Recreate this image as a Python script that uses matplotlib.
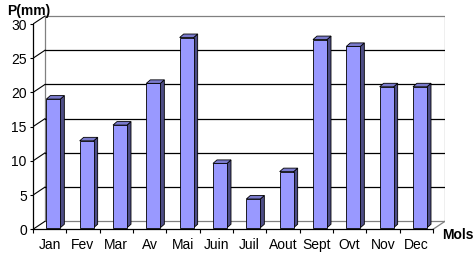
import matplotlib
matplotlib.use("Agg")
import matplotlib.pyplot as plt
from matplotlib.patches import Polygon, Rectangle
import numpy as np

months = ['Jan', 'Fev', 'Mar', 'Av', 'Mai', 'Juin', 'Juil', 'Aout', 'Sept', 'Ovt', 'Nov', 'Dec']
precip = [18.8, 12.7, 15.0, 21.1, 27.8, 9.4, 4.2, 8.2, 27.5, 26.5, 20.6, 20.6]
yticks = [0, 5, 10, 15, 20, 25, 30]
ylabel = 'P(mm)'
xlabel = 'Mols'

plt.rcParams['font.family'] = ['Liberation Sans', 'DejaVu Sans']

W, H = 475, 264
fig = plt.figure(figsize=(W / 100, H / 100), dpi=100)

# 3D geometry (in data units)
ddx, ddy = 0.36, 1.17      # depth of the floor / walls
ox, oy = 0.11, 0.23        # bar front-face offset
bw = 0.42                  # bar width
bdx, bdy = 0.12, 0.51      # bar depth
ymax = 30

ax = fig.add_axes([33 / W, (H - 229.3) / H, 412 / W, 214.3 / H])
n = len(months)
ax.set_xlim(-0.5, n - 0.5 + ddx)
ax.set_ylim(0, ymax + ddy + 0.15)
ax.patch.set_visible(False)

wall_c = '#808080'
# back wall
ax.add_patch(Rectangle((-0.5 + ddx, ddy), n, ymax, facecolor='white',
                       edgecolor=wall_c, linewidth=0.9, zorder=1))
# gridlines on back wall
for t in yticks[1:-1]:
    ax.plot([-0.5 + ddx, n - 0.5 + ddx], [t + ddy, t + ddy], color='black', lw=0.9, zorder=2)
# diagonals from y ticks to back wall
for t in yticks:
    ax.plot([-0.5, -0.5 + ddx], [t, t + ddy], color='black', lw=0.8, zorder=2)
# floor right edge
ax.plot([n - 0.5, n - 0.5 + ddx], [0, ddy], color=wall_c, lw=0.9, zorder=2)

# bars
x = np.arange(n)
bars = ax.bar(x + ox, precip, width=bw, bottom=oy, color='#9999FF',
              edgecolor='black', linewidth=0.6, zorder=4)
for xi, v in zip(x, precip):
    xr = xi + ox + bw / 2
    xl = xi + ox - bw / 2
    top = oy + v
    side = Polygon([(xr, oy), (xr + bdx, oy + bdy), (xr + bdx, top + bdy), (xr, top)],
                   closed=True, facecolor='#4D4D85', edgecolor='black', lw=0.6, zorder=3)
    topf = Polygon([(xl, top), (xr, top), (xr + bdx, top + bdy), (xl + bdx, top + bdy)],
                   closed=True, facecolor='#7A7ACC', edgecolor='black', lw=0.6, zorder=3)
    ax.add_patch(side)
    ax.add_patch(topf)

# axes
for s in ['top', 'right']:
    ax.spines[s].set_visible(False)
ax.spines['left'].set_bounds(0, ymax)
ax.spines['bottom'].set_bounds(-0.5, n - 0.5)
ax.spines['left'].set_linewidth(0.9)
ax.spines['bottom'].set_linewidth(0.9)
ax.spines['left'].set_zorder(6)
ax.spines['bottom'].set_zorder(6)

ax.set_yticks(yticks)
ax.set_yticklabels([str(t) for t in yticks], fontsize=10)
ax.tick_params(axis='y', length=2.5, width=0.8, pad=2)
ax.set_xticks(x)
ax.set_xticklabels(months, fontsize=10)
ax.set_xticks(np.arange(-0.5, n, 1.0), minor=True)
ax.tick_params(axis='x', which='major', length=0, pad=6)
ax.tick_params(axis='x', which='minor', length=3, width=0.8)

fig.text(7 / W, 1 - 10.5 / H, ylabel, fontsize=10, fontweight='bold', ha='left', va='center')
fig.text(442 / W, 1 - 235 / H, xlabel, fontsize=10, fontweight='bold', ha='left', va='center')

fig.savefig('out.png', dpi=100)
